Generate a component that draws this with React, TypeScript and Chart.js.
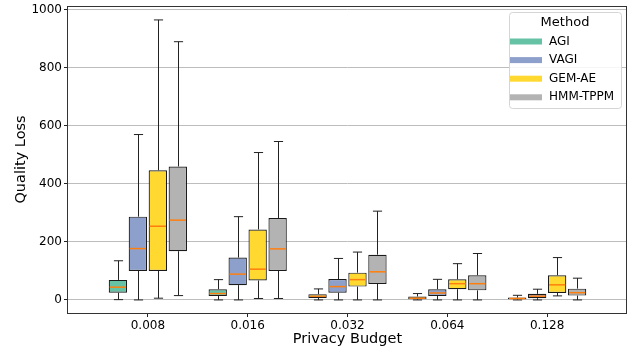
import React, { useEffect, useRef } from 'react';
import { Chart, registerables } from 'chart.js';

Chart.register(...registerables);

const categories = ['0.008', '0.016', '0.032', '0.064', '0.128'];
const methods = ['AGI', 'VAGI', 'GEM-AE', 'HMM-TPPM'];
const colors = ['#66c2a5', '#8da0cb', '#ffd92f', '#b3b3b3'];

// per budget: [min, q1, median, q3, max]
const agiStats = [
  [1, 25, 44, 69, 135],
  [0, 14, 22, 37, 70],
  [0, 7, 13, 20, 38],
  [0, 2, 6, 12, 22],
  [0, 2, 5, 8, 16],
];
const vagiStats = [
  [0, 100, 177, 287, 570],
  [0, 51, 89, 146, 287],
  [0, 25, 46, 72, 143],
  [0, 14, 24, 37, 71],
  [0, 6, 13, 21, 37],
];
const gemAeStats = [
  [6, 100, 254, 447, 965],
  [5, 67, 106, 243, 508],
  [0, 46, 70, 94, 165],
  [0, 37, 56, 71, 125],
  [14, 24, 52, 85, 146],
];
const hmmTppmStats = [
  [15, 168, 275, 460, 890],
  [5, 100, 176, 282, 546],
  [0, 55, 97, 156, 306],
  [0, 33, 56, 85, 160],
  [0, 15, 25, 39, 75],
];

const yTicks = [0, 200, 400, 600, 800, 1000];
const xTitle = 'Privacy Budget';
const yTitle = 'Quality Loss';
const legendTitle = 'Method';

const FONT = "'DejaVu Sans', sans-serif";

export default function App() {
  const ref = useRef<HTMLCanvasElement>(null);

  useEffect(() => {
    if (!ref.current) return;
    const statsList = [agiStats, vagiStats, gemAeStats, hmmTppmStats];

    const boxPlugin = {
      id: 'boxWhiskers',
      afterDatasetsDraw(chart: any) {
        const ctx = chart.ctx;
        const ys = chart.scales.y;
        ctx.save();
        chart.data.datasets.forEach((_ds: any, di: number) => {
          const meta = chart.getDatasetMeta(di);
          meta.data.forEach((bar: any, i: number) => {
            const [mn, q1, md, q3, mx] = statsList[di][i];
            const x = Math.round(bar.x) + 0.5;
            const w = bar.width;
            const pMin = ys.getPixelForValue(mn);
            const pQ1 = ys.getPixelForValue(q1);
            const pMd = ys.getPixelForValue(md);
            const pQ3 = ys.getPixelForValue(q3);
            const pMax = ys.getPixelForValue(mx);
            ctx.strokeStyle = '#222';
            ctx.lineWidth = 1;
            ctx.beginPath();
            ctx.moveTo(x, pQ3);
            ctx.lineTo(x, pMax);
            ctx.moveTo(x, pQ1);
            ctx.lineTo(x, pMin);
            ctx.moveTo(x - w / 4, pMax);
            ctx.lineTo(x + w / 4, pMax);
            ctx.moveTo(x - w / 4, pMin);
            ctx.lineTo(x + w / 4, pMin);
            ctx.stroke();
            ctx.strokeStyle = '#ff7f0e';
            ctx.lineWidth = 1.5;
            ctx.beginPath();
            ctx.moveTo(bar.x - w / 2 + 1, pMd);
            ctx.lineTo(bar.x + w / 2 - 1, pMd);
            ctx.stroke();
          });
        });
        ctx.restore();
      },
    };

    const framePlugin = {
      id: 'frameLegend',
      afterDraw(chart: any) {
        const ctx = chart.ctx;
        const ca = chart.chartArea;
        ctx.save();
        ctx.strokeStyle = '#333';
        ctx.lineWidth = 1;
        ctx.strokeRect(Math.round(ca.left) - 0.5, Math.round(ca.top) + 0.5, Math.round(ca.right - ca.left), Math.round(ca.bottom - ca.top));

        // legend
        const lx = ca.right - 118;
        const ly = ca.top + 6;
        const lw = 112;
        const lh = 96;
        ctx.beginPath();
        ctx.roundRect(lx + 0.5, ly + 0.5, lw, lh, 3);
        ctx.fillStyle = 'rgba(255,255,255,0.85)';
        ctx.fill();
        ctx.strokeStyle = '#d5d5d5';
        ctx.stroke();
        ctx.fillStyle = '#000';
        ctx.textBaseline = 'middle';
        ctx.textAlign = 'center';
        ctx.font = `13px ${FONT}`;
        ctx.fillText(legendTitle, lx + lw / 2, ly + 10.5);
        ctx.textAlign = 'left';
        ctx.font = `12px ${FONT}`;
        methods.forEach((m, i) => {
          const cy = ly + 29.5 + i * 18.6;
          ctx.fillStyle = colors[i];
          ctx.fillRect(lx + 1, cy - 3, 32, 6);
          ctx.fillStyle = '#000';
          ctx.fillText(m, lx + 40, cy);
        });
        ctx.restore();
      },
    };

    const chart = new Chart(ref.current, {
      type: 'bar',
      data: {
        datasets: methods.map((m, di) => ({
          label: m,
          data: statsList[di].map((s, i) => ({ x: i, y: [s[1], s[3]] })),
          backgroundColor: colors[di],
          borderColor: '#1a1a1a',
          borderWidth: 1.2,
          borderSkipped: false,
          categoryPercentage: 0.8,
          barPercentage: 0.92,
        })),
      },
      options: {
        animation: false,
        responsive: false,
        devicePixelRatio: 1,
        layout: { padding: { top: 6, right: 16, left: 0, bottom: 0 } },
        plugins: {
          legend: { display: false },
          tooltip: { enabled: false },
        },
        scales: {
          x: {
            type: 'linear',
            min: -0.8,
            max: 4.8,
            offset: false,
            afterBuildTicks: (axis: any) => {
              axis.ticks = categories.map((_, i) => ({ value: i }));
            },
            afterFit: (axis: any) => {
              axis.height = 39;
              axis.paddingLeft = 0;
              axis.paddingRight = 0;
            },
            ticks: {
              autoSkip: false,
              maxRotation: 0,
              padding: 2,
              color: '#000',
              font: { family: FONT, size: 12 },
              callback: (v: any) => categories[v] ?? '',
            },
            grid: {
              offset: false,
              drawOnChartArea: false,
              drawTicks: true,
              tickLength: 4,
              tickColor: '#222',
            },
            border: { display: false },
            title: {
              display: true,
              text: xTitle,
              color: '#000',
              font: { family: FONT, size: 14.5 },
              padding: { top: 0, bottom: 4 },
            },
          },
          y: {
            min: -45,
            max: 1013,
            afterBuildTicks: (axis: any) => {
              axis.ticks = yTicks.map((v) => ({ value: v }));
            },
            afterFit: (axis: any) => {
              axis.width = 68;
              axis.paddingTop = 0;
              axis.paddingBottom = 0;
            },
            ticks: {
              padding: 2,
              color: '#000',
              font: { family: FONT, size: 12 },
              callback: (v: any) => String(v),
            },
            grid: {
              color: '#bdbdbd',
              lineWidth: 1,
              drawTicks: true,
              tickLength: 4,
              tickColor: '#222',
            },
            border: { display: false },
            title: {
              display: true,
              text: yTitle,
              color: '#000',
              font: { family: FONT, size: 14.5 },
              padding: { top: 13, bottom: 0 },
            },
          },
        },
      },
      plugins: [boxPlugin, framePlugin],
    } as any);

    return () => chart.destroy();
  }, []);

  return (
    <div style={{ position: 'fixed', left: 0, top: 0, width: 643, height: 352, background: '#fff' }}>
      <canvas ref={ref} width={643} height={352} style={{ display: 'block' }} />
    </div>
  );
}
